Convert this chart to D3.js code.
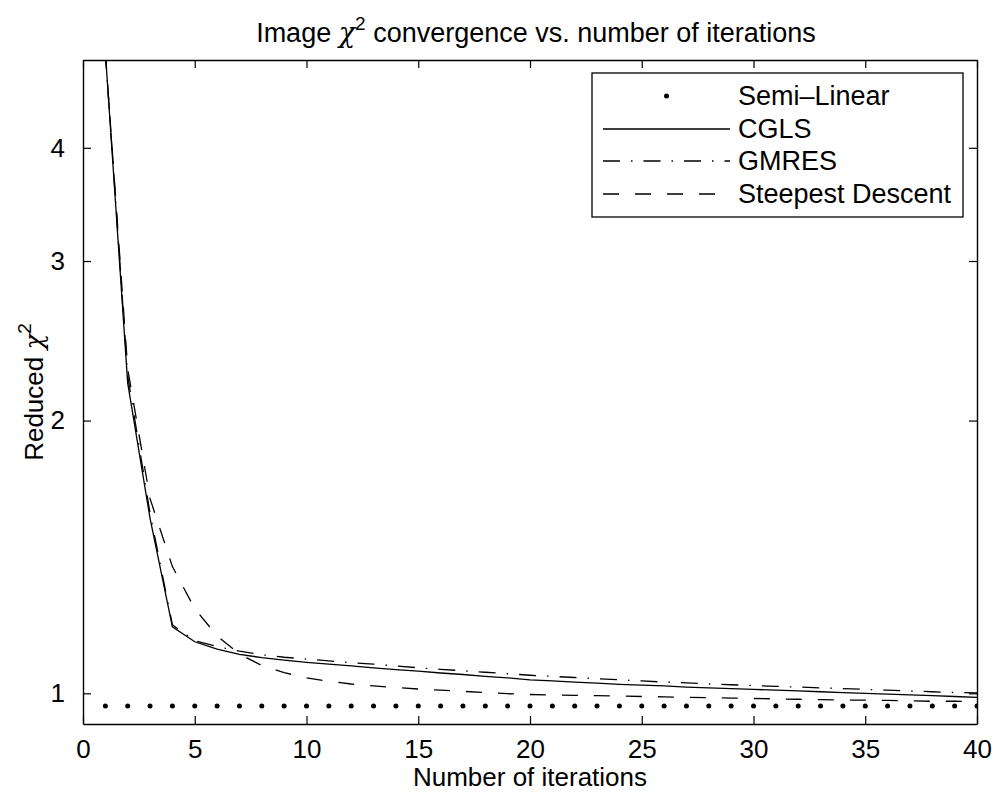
<!DOCTYPE html>
<html>
<head>
<meta charset="utf-8">
<script src="https://cdn.jsdelivr.net/npm/d3@7"></script>
<style>
  html, body { margin: 0; padding: 0; background: #fff; }
  svg { display: block; font-family: "Liberation Sans", Arial, Helvetica, sans-serif; }
</style>
</head>
<body>
<svg id="chart" width="998" height="793"></svg>
<script>
// Iteration counts 1..40
const iterations = [1,2,3,4,5,6,7,8,9,10,11,12,13,14,15,16,17,18,19,20,
                    21,22,23,24,25,26,27,28,29,30,31,32,33,34,35,36,37,38,39,40];

// Reduced chi-square per iteration for each solver
const semiLinear = [0.968,0.968,0.968,0.968,0.968,0.968,0.968,0.968,0.968,0.968,
                    0.968,0.968,0.968,0.968,0.968,0.968,0.968,0.968,0.968,0.968,
                    0.968,0.968,0.968,0.968,0.968,0.968,0.968,0.968,0.968,0.968,
                    0.968,0.968,0.968,0.968,0.968,0.968,0.968,0.968,0.968,0.968];
const cgls = [5.1,2.2,1.56,1.184,1.14,1.119,1.104,1.095,1.088,1.082,
              1.077,1.072,1.067,1.062,1.058,1.053,1.049,1.044,1.040,1.035,
              1.032,1.029,1.026,1.023,1.021,1.019,1.016,1.014,1.012,1.010,
              1.008,1.006,1.004,1.002,1.000,0.998,0.996,0.994,0.992,0.990];
const gmres = [5.1,2.24,1.58,1.19,1.143,1.126,1.113,1.103,1.096,1.091,
               1.086,1.081,1.077,1.072,1.067,1.063,1.059,1.055,1.051,1.047,
               1.044,1.041,1.038,1.035,1.032,1.029,1.027,1.024,1.022,1.020,
               1.018,1.016,1.014,1.012,1.010,1.008,1.006,1.004,1.002,1.001];
const steepest = [5.1,2.28,1.64,1.38,1.24,1.157,1.105,1.073,1.054,1.040,
                  1.031,1.024,1.019,1.015,1.011,1.008,1.005,1.002,0.999,0.997,
                  0.996,0.995,0.994,0.993,0.992,0.991,0.990,0.989,0.988,0.987,
                  0.986,0.985,0.984,0.983,0.983,0.982,0.981,0.980,0.980,0.979];

const xTicks = [0,5,10,15,20,25,30,35,40];
const yTicks = [1,2,3,4];
const legendLabels = ["Semi\u2013Linear","CGLS","GMRES","Steepest Descent"];

const svg = d3.select("#chart");
const plotL = 83, plotR = 977, plotT = 60, plotB = 724;

const x = d3.scaleLinear().domain([0, 40]).range([plotL, plotR]);
const y = d3.scaleLog().domain([0.925, 5]).range([plotB, plotT]);

const FONT = 26;
const FONT_WIDE = 27;

// clip region for the data
svg.append("defs").append("clipPath").attr("id", "plotClip")
  .append("rect").attr("x", plotL).attr("y", plotT)
  .attr("width", plotR - plotL).attr("height", plotB - plotT);

// axes box with inward ticks on all four sides
const axB = svg.append("g").attr("transform", `translate(0,${plotB})`)
  .call(d3.axisBottom(x).tickValues(xTicks).tickSizeInner(-8).tickSizeOuter(0).tickPadding(16).tickFormat(d3.format("d")));
const axT = svg.append("g").attr("transform", `translate(0,${plotT})`)
  .call(d3.axisTop(x).tickValues(xTicks).tickSizeInner(-8).tickSizeOuter(0).tickFormat(""));
const axL = svg.append("g").attr("transform", `translate(${plotL},0)`)
  .call(d3.axisLeft(y).tickValues(yTicks).tickSizeInner(-8).tickSizeOuter(0).tickPadding(18).tickFormat(d3.format("d")));
const axR = svg.append("g").attr("transform", `translate(${plotR},0)`)
  .call(d3.axisRight(y).tickValues(yTicks).tickSizeInner(-8).tickSizeOuter(0).tickFormat(""));

[axB, axT, axL, axR].forEach(a => {
  a.select(".domain").attr("stroke", "#000").attr("stroke-width", 1.4);
  a.selectAll(".tick line").attr("stroke", "#000").attr("stroke-width", 1.2);
  a.selectAll(".tick text").attr("fill", "#000").attr("font-size", FONT)
    .attr("font-family", "Liberation Sans, Arial, sans-serif");
});

// series lines
const line = d3.line().x((d, i) => x(iterations[i])).y(d => y(d));
const plot = svg.append("g").attr("clip-path", "url(#plotClip)");

const lineSeries = [
  { values: cgls,     dash: null },
  { values: gmres,    dash: "17,11,1.5,11" },
  { values: steepest, dash: "16,16" }
];
lineSeries.forEach(s => {
  plot.append("path").datum(s.values)
    .attr("d", line)
    .attr("fill", "none")
    .attr("stroke", "#000")
    .attr("stroke-width", 1.3)
    .attr("stroke-dasharray", s.dash);
});

plot.selectAll("circle.semi").data(semiLinear).enter().append("circle")
  .attr("class", "semi")
  .attr("cx", (d, i) => x(iterations[i]))
  .attr("cy", d => y(d))
  .attr("r", 2.5)
  .attr("fill", "#000");

// title
const title = svg.append("text").attr("x", (plotL + plotR) / 2 + 6).attr("y", 42)
  .attr("text-anchor", "middle").attr("font-size", FONT_WIDE).attr("fill", "#000");
title.append("tspan").text("Image ");
title.append("tspan").text("\u03c7").attr("font-family", "DejaVu Serif, serif").attr("font-style", "italic");
title.append("tspan").text("2").attr("font-size", 19).attr("dy", -12);
title.append("tspan").text(" convergence vs. number of iterations").attr("dy", 12);

// x label
svg.append("text").attr("x", (plotL + plotR) / 2).attr("y", 786)
  .attr("text-anchor", "middle").attr("font-size", FONT).attr("fill", "#000")
  .text("Number of iterations");

// y label
const yl = svg.append("text")
  .attr("transform", `translate(43,${(plotT + plotB) / 2}) rotate(-90)`)
  .attr("text-anchor", "middle").attr("font-size", FONT).attr("fill", "#000");
yl.append("tspan").text("Reduced ");
yl.append("tspan").text("\u03c7").attr("font-family", "DejaVu Serif, serif").attr("font-style", "italic");
yl.append("tspan").text("2").attr("font-size", 19).attr("dy", -12);

// legend
const lg = svg.append("g");
const lgX = 592, lgY = 73, lgW = 371, lgH = 144;
lg.append("rect").attr("x", lgX).attr("y", lgY).attr("width", lgW).attr("height", lgH)
  .attr("fill", "#fff").attr("stroke", "#000").attr("stroke-width", 1.3);
const rowY = [96, 129, 161, 194];
const sampleX0 = 603, sampleX1 = 730, textX = 738;
legendLabels.forEach((lab, i) => {
  if (i === 0) {
    lg.append("circle").attr("cx", (sampleX0 + sampleX1) / 2).attr("cy", rowY[i]).attr("r", 2.5).attr("fill", "#000");
  } else {
    lg.append("line").attr("x1", sampleX0).attr("x2", sampleX1).attr("y1", rowY[i]).attr("y2", rowY[i])
      .attr("stroke", "#000").attr("stroke-width", 1.3)
      .attr("stroke-dasharray", lineSeries[i - 1].dash);
  }
  lg.append("text").attr("x", textX).attr("y", rowY[i] + 9).attr("font-size", FONT_WIDE)
    .attr("fill", "#000").text(lab);
});
</script>
</body>
</html>
